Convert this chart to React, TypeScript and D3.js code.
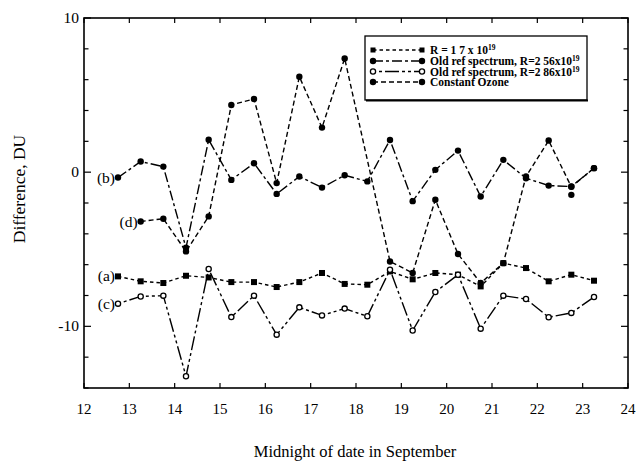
import React from "react";
import * as d3 from "d3";

// Observation times (midnight of date in September, half-day offsets)
const days = [
  12.75, 13.25, 13.75, 14.25, 14.75, 15.25, 15.75, 16.25, 16.75, 17.25, 17.75,
  18.25, 18.75, 19.25, 19.75, 20.25, 20.75, 21.25, 21.75, 22.25, 22.75, 23.25,
];

// (a) R = 1.7 x 10^19
const seriesA = [
  -6.76, -7.08, -7.19, -6.72, -6.83, -7.13, -7.13, -7.45, -7.13, -6.54, -7.25,
  -7.3, -6.44, -6.95, -6.54, -6.65, -7.41, -5.9, -6.22, -7.08, -6.65, -7.04,
];
// (b) Old ref spectrum, R = 2.56 x 10^19
const seriesB = [
  -0.35, 0.69, 0.36, -4.9, 2.1, -0.5, 0.58, -1.41, -0.28, -1.0, -0.2,
  -0.6, 2.09, -1.88, 0.15, 1.4, -1.58, 0.8, -0.39, -0.87, -0.93, 0.26,
];
// (c) Old ref spectrum, R = 2.86 x 10^19
const seriesC = [
  -8.53, -8.06, -8.01, -13.24, -6.28, -9.4, -8.01, -10.54, -8.77, -9.29, -8.85,
  -9.35, -6.33, -10.27, -7.77, -6.65, -10.15, -8.01, -8.23, -9.41, -9.13, -8.1,
];
// (d) Constant ozone
const seriesD: (number | null)[] = [
  null, -3.2, -3.02, -5.14, -2.87, 4.36, 4.75, -0.71, 6.19, 2.89, 7.38,
  null, -5.79, -6.54, -1.79, -5.31, -7.19, -5.9, -0.28, 2.05, -0.95, 0.26,
];
// Lone marker near 22.75
const extraDays = [22.75];
const extraValues = [-1.47];

const xTicks = [12, 13, 14, 15, 16, 17, 18, 19, 20, 21, 22, 23, 24];
const yTicks = [-14, -12, -10, -8, -6, -4, -2, 0, 2, 4, 6, 8, 10];
const yLabels = [-10, 0, 10];

const legendLabels = [
  { text: "R = 1 7 x 10", sup: "19" },
  { text: "Old ref  spectrum, R=2 56x10", sup: "19" },
  { text: "Old ref  spectrum, R=2 86x10", sup: "19" },
  { text: "Constant Ozone", sup: "" },
];
const curveLabels = ["(a)", "(b)", "(c)", "(d)"];

const W = 638;
const H = 467;
const left = 84;
const right = 628;
const top = 18;
const bottom = 388;

const FONT = "'Liberation Serif', 'DejaVu Serif', serif";

type Marker = "square" | "dot" | "open";

export default function App() {
  const x = d3.scaleLinear().domain([12, 24]).range([left, right]);
  const y = d3.scaleLinear().domain([-14, 10]).range([bottom, top]);

  const toPts = (vals: (number | null)[]) =>
    days
      .map((d, i) => [d, vals[i]] as [number, number | null])
      .filter((p) => p[1] !== null) as [number, number][];

  const line = d3
    .line<[number, number]>()
    .x((p) => x(p[0]))
    .y((p) => y(p[1]));

  const series: {
    pts: [number, number][];
    dash: string;
    marker: Marker;
    label: string;
  }[] = [
    { pts: toPts(seriesA), dash: "3.5,3", marker: "square", label: curveLabels[0] },
    { pts: toPts(seriesB), dash: "10,3,3,3", marker: "dot", label: curveLabels[1] },
    { pts: toPts(seriesC), dash: "3,3,3,3,14,3", marker: "open", label: curveLabels[2] },
    { pts: toPts(seriesD), dash: "5,3", marker: "dot", label: curveLabels[3] },
  ];

  const drawMarker = (m: Marker, cx: number, cy: number, key: string | number, big = false) => {
    if (m === "square") {
      const s = big ? 5 : 6;
      return <rect key={key} x={cx - s / 2} y={cy - s / 2} width={s} height={s} fill="#000" />;
    }
    if (m === "open") {
      return <circle key={key} cx={cx} cy={cy} r={2.6} fill="#fff" stroke="#000" strokeWidth={1.3} />;
    }
    return <circle key={key} cx={cx} cy={cy} r={3.2} fill="#000" />;
  };

  const legendX0 = 373;
  const legendX1 = 422;
  const legendRows = [50, 61, 71.5, 82];

  return (
    <svg
      width={W}
      height={H}
      style={{ position: "absolute", left: 0, top: 0, background: "#fff" }}
      fontFamily={FONT}
    >
      <rect x={0} y={0} width={W} height={H} fill="#fff" />

      {/* frame */}
      <rect x={left} y={top} width={right - left} height={bottom - top} fill="none" stroke="#000" strokeWidth={1.6} />

      {/* x ticks, bottom and top */}
      {xTicks.map((t) => (
        <g key={"xt" + t}>
          <line x1={x(t)} x2={x(t)} y1={bottom} y2={bottom - 5} stroke="#000" strokeWidth={1.2} />
          <line x1={x(t)} x2={x(t)} y1={top} y2={top + 5} stroke="#000" strokeWidth={1.2} />
          <text x={x(t)} y={bottom + 26} textAnchor="middle" fontSize={15}>
            {t}
          </text>
        </g>
      ))}

      {/* y ticks, left and right */}
      {yTicks.map((t) => {
        const len = yLabels.includes(t) ? 7 : 4.5;
        return (
          <g key={"yt" + t}>
            <line x1={left} x2={left + len} y1={y(t)} y2={y(t)} stroke="#000" strokeWidth={1.2} />
            <line x1={right} x2={right - len} y1={y(t)} y2={y(t)} stroke="#000" strokeWidth={1.2} />
          </g>
        );
      })}
      {yLabels.map((t) => (
        <text key={"yl" + t} x={left - 5} y={y(t) + 5} textAnchor="end" fontSize={15.5}>
          {String(t)}
        </text>
      ))}

      {/* axis titles */}
      <text x={355} y={457} textAnchor="middle" fontSize={16.5}>
        Midnight of date in September
      </text>
      <text
        transform={`translate(25, 189) rotate(-90)`}
        textAnchor="middle"
        fontSize={17.5}
      >
        Difference, DU
      </text>

      {/* series lines */}
      {series.map((s, i) => (
        <path
          key={"ln" + i}
          d={line(s.pts) || ""}
          fill="none"
          stroke="#000"
          strokeWidth={1.4}
          strokeDasharray={s.dash}
        />
      ))}

      {/* series markers */}
      {series.map((s, i) => (
        <g key={"mk" + i}>{s.pts.map((p, j) => drawMarker(s.marker, x(p[0]), y(p[1]), j))}</g>
      ))}
      {extraDays.map((d, i) => drawMarker("dot", x(d), y(extraValues[i]), "ex" + i))}

      {/* curve labels */}
      {series.map((s, i) => (
        <text
          key={"cl" + i}
          x={x(s.pts[0][0]) - 3}
          y={y(s.pts[0][1]) + 5}
          textAnchor="end"
          fontSize={15.5}
        >
          {s.label}
        </text>
      ))}

      {/* legend */}
      <rect x={365} y={36} width={222} height={64} fill="#fff" stroke="#000" strokeWidth={1.3} />
      <line x1={366} x2={588} y1={100.5} y2={100.5} stroke="#000" strokeWidth={2} />
      {series.map((s, i) => (
        <g key={"lg" + i}>
          <line
            x1={legendX0}
            x2={legendX1}
            y1={legendRows[i]}
            y2={legendRows[i]}
            stroke="#000"
            strokeWidth={1.3}
            strokeDasharray={s.dash}
          />
          {drawMarker(s.marker, legendX0, legendRows[i], "a", true)}
          {drawMarker(s.marker, legendX1, legendRows[i], "b", true)}
          <text x={430} y={legendRows[i] + 4} fontSize={11.5} fontWeight="bold">
            {legendLabels[i].text}
            {legendLabels[i].sup && (
              <tspan dy={-4} fontSize={7.5}>
                {legendLabels[i].sup}
              </tspan>
            )}
          </text>
        </g>
      ))}
    </svg>
  );
}
